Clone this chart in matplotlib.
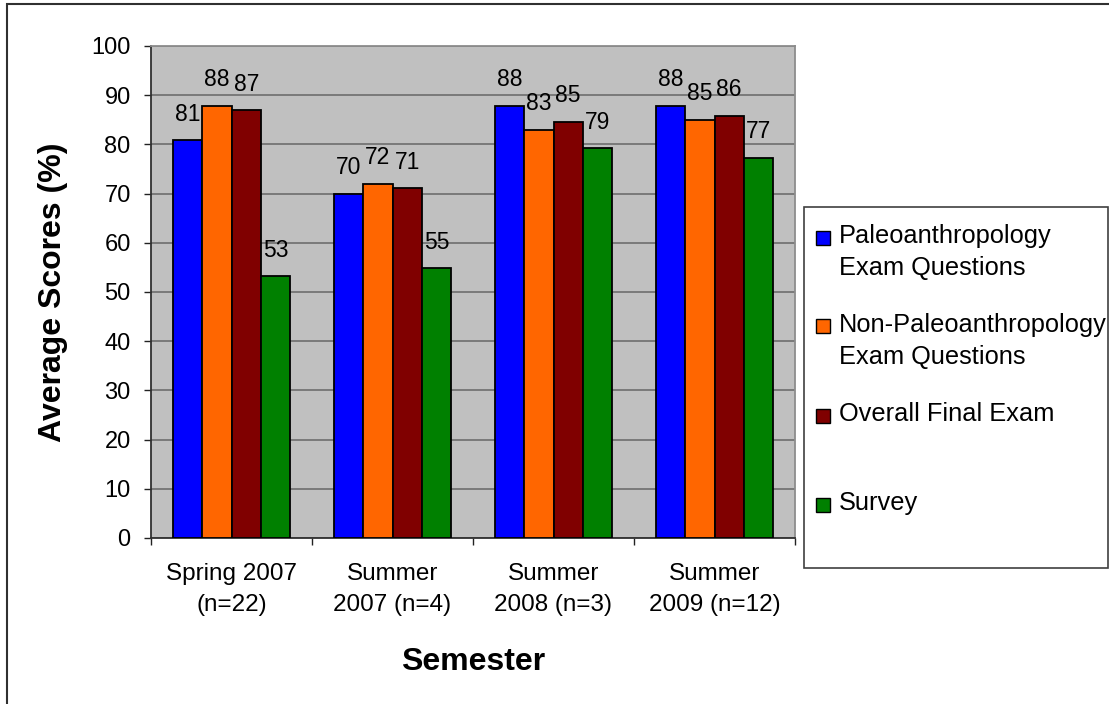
"""Average scores per semester, grouped bars"""

import matplotlib.pyplot as plt
from matplotlib.patches import Rectangle

semesters = ["Spring 2007\n(n=22)", "Summer\n2007 (n=4)",
             "Summer\n2008 (n=3)", "Summer\n2009 (n=12)"]
series_names = ["Paleoanthropology\nExam Questions",
                "Non-Paleoanthropology\nExam Questions",
                "Overall Final Exam",
                "Survey"]
paleo = [80.9, 70.0, 87.9, 87.9]
non_paleo = [87.9, 72.0, 83.0, 85.0]
overall = [87.0, 71.1, 84.6, 85.8]
survey = [53.2, 54.8, 79.2, 77.3]
colors = ["#0000FF", "#FF6600", "#800000", "#008000"]

W, H = 1109, 704


def fx(px):
    return px / W


def fy(py):
    return 1 - py / H


plt.rcParams["font.family"] = ["Liberation Sans", "DejaVu Sans"]

fig = plt.figure(figsize=(W / 100, H / 100), dpi=100)
ax = fig.add_axes([fx(151), fy(538), fx(795) - fx(151), fy(46) - fy(538)])
ax.set_facecolor("#C0C0C0")
ax.set_xlim(0, 4)
ax.set_ylim(0, 100)
ax.set_yticks(range(0, 101, 10))
ax.yaxis.grid(True, color="#6E6E6E", lw=1.2)
ax.set_axisbelow(True)

width = 0.183
all_series = [paleo, non_paleo, overall, survey]
for k, (vals, color) in enumerate(zip(all_series, colors)):
    xs = [i + 0.5 + (k - 1.5) * width for i in range(len(semesters))]
    bars = ax.bar(xs, vals, width, color=color, edgecolor="black",
                  lw=1.3, zorder=3)
    for bar, v in zip(bars, vals):
        ax.annotate(f"{v:.0f}", (bar.get_x() + bar.get_width() / 2, v),
                    xytext=(0, 14), textcoords="offset points",
                    ha="center", va="baseline", fontsize=16.5)

# category boundaries get the ticks, labels sit in the middle
ax.set_xticks(range(5))
ax.set_xticklabels([])
ax.set_xticks([i + 0.5 for i in range(4)], minor=True)
ax.set_xticklabels(semesters, minor=True, fontsize=17.5, linespacing=1.55)
ax.tick_params(axis="x", which="major", length=5, width=1, color="#222222")
ax.tick_params(axis="x", which="minor", length=0, pad=18)
ax.tick_params(axis="y", length=5, width=1, color="#222222", pad=9.6,
               labelsize=17)

for side in ["left", "bottom"]:
    ax.spines[side].set_color("#303030")
    ax.spines[side].set_linewidth(1.3)
for side in ["top", "right"]:
    ax.spines[side].set_color("#8C8C8C")
    ax.spines[side].set_linewidth(1.3)

fig.text(fx(473), fy(670), "Semester", ha="center", va="baseline",
         fontsize=23, fontweight="bold")
fig.text(fx(53), fy(292.5), "Average Scores (%)", ha="center", va="center",
         rotation=90, fontsize=23, fontweight="bold")

# legend box drawn by hand so the squares line up with the first text line
fig.add_artist(Rectangle((fx(804), fy(568)), fx(1108) - fx(804),
                         fy(207) - fy(568), transform=fig.transFigure,
                         fill=False, ec="#404040", lw=1.2))
baselines = [243, 332, 421, 510]
for name, color, base in zip(series_names, colors, baselines):
    fig.add_artist(Rectangle((fx(816), fy(base + 1.5)), fx(14), 14 / H,
                             transform=fig.transFigure, fc=color,
                             ec="black", lw=1))
    for j, line in enumerate(name.split("\n")):
        fig.text(fx(839), fy(base + j * 32.5), line, ha="left",
                 va="baseline", fontsize=18.3)

# outer chart border
fig.add_artist(Rectangle((fx(6.5), -0.05), 1.2, fy(4) + 0.05,
                         transform=fig.transFigure, fill=False,
                         ec="#303030", lw=1.5))

fig.savefig("out.png", dpi=100)
